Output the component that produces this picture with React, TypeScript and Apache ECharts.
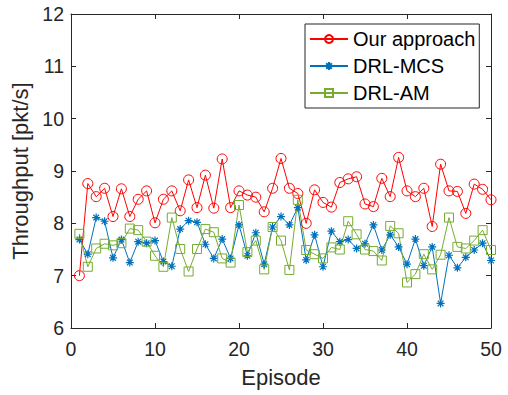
import React, { useEffect, useRef } from "react";
import * as echarts from "echarts";

const episodes: number[] = Array.from({ length: 50 }, (_, i) => i + 1);

const ourApproach: number[] = [
  7.0, 8.76, 8.51, 8.67, 8.13, 8.66, 8.13, 8.46, 8.62, 8.01,
  8.46, 8.62, 8.24, 8.83, 8.3, 8.92, 8.29, 9.23, 8.3, 8.62,
  8.54, 8.5, 8.22, 8.67, 9.24, 8.67, 8.57, 8.0, 8.64, 8.4,
  8.31, 8.78, 8.85, 8.89, 8.37, 8.32, 8.86, 8.51, 9.26, 8.62,
  8.51, 8.67, 7.94, 9.13, 8.62, 8.61, 8.19, 8.75, 8.65, 8.45,
];

const drlMcs: number[] = [
  7.69, 7.41, 8.11, 8.04, 7.34, 7.69, 7.25, 7.65, 7.62, 7.67,
  7.27, 7.18, 7.89, 8.05, 8.02, 7.6, 7.33, 7.7, 7.33, 7.97,
  7.38, 7.82, 7.22, 7.93, 8.13, 7.97, 8.3, 7.3, 7.78, 7.17,
  7.85, 7.65, 7.69, 7.52, 7.61, 7.97, 7.49, 7.78, 7.55, 7.22,
  7.7, 7.19, 7.55, 6.47, 7.39, 7.15, 7.35, 7.49, 7.62, 7.29,
];

const drlAm: number[] = [
  7.8, 7.17, 7.52, 7.61, 7.58, 7.62, 7.9, 7.87, 7.65, 7.38,
  7.17, 8.11, 7.51, 7.08, 7.51, 7.89, 7.83, 7.33, 7.25, 8.35,
  7.45, 7.67, 7.12, 7.93, 7.67, 7.11, 8.45, 7.49, 7.41, 7.33,
  7.54, 7.5, 8.04, 7.79, 7.5, 7.47, 7.29, 7.95, 7.81, 6.87,
  7.03, 7.41, 7.12, 7.4, 8.11, 7.55, 7.52, 7.67, 7.87, 7.49,
];

const seriesNames = ["Our approach", "DRL-MCS", "DRL-AM"];
const xTicks = { min: 0, max: 50, interval: 10 };
const yTicks = { min: 6, max: 12, interval: 1 };

const AXIS_COLOR = "#262626";
const FONT = "'Liberation Sans', Arial, Helvetica, sans-serif";
const ASTERISK =
  "path://M0,4L8,4M4,0L4,8M1.17,1.17L6.83,6.83M1.17,6.83L6.83,1.17";

export default function App() {
  const ref = useRef<HTMLDivElement>(null);

  useEffect(() => {
    document.body.style.margin = "0";
    if (!ref.current) return;
    const chart = echarts.init(ref.current, undefined, { renderer: "svg" });
    const pairs = (vals: number[]) => episodes.map((e, i) => [e, vals[i]]);

    const axisCommon = {
      axisLine: { show: true, onZero: false, lineStyle: { color: AXIS_COLOR, width: 1 } },
      axisTick: { show: true, inside: true, length: 5, lineStyle: { color: AXIS_COLOR } },
      splitLine: { show: false },
    };

    chart.setOption({
      animation: false,
      backgroundColor: "#ffffff",
      textStyle: { fontFamily: FONT },
      grid: { left: 71, top: 14, right: 17, bottom: 67, containLabel: false },
      legend: {
        data: seriesNames,
        orient: "vertical",
        left: 305,
        top: 24,
        itemWidth: 38,
        itemHeight: 10,
        itemGap: 3,
        padding: [3, 4, 3, 4],
        borderColor: AXIS_COLOR,
        borderWidth: 1,
        backgroundColor: "#ffffff",
        textStyle: { fontSize: 20, color: "#000000", fontFamily: FONT, lineHeight: 24 },
      },
      xAxis: [
        {
          type: "value",
          ...xTicks,
          ...axisCommon,
          name: "Episode",
          nameLocation: "middle",
          nameGap: 38,
          nameTextStyle: { fontSize: 22, color: AXIS_COLOR, fontFamily: FONT },
          axisLabel: { fontSize: 19.5, color: AXIS_COLOR, margin: 11, fontFamily: FONT },
        },
        {
          type: "value",
          position: "top",
          ...xTicks,
          ...axisCommon,
          axisLabel: { show: false },
        },
      ],
      yAxis: [
        {
          type: "value",
          ...yTicks,
          ...axisCommon,
          name: "Throughput [pkt/s]",
          nameLocation: "middle",
          nameGap: 36,
          nameTextStyle: { fontSize: 22, color: AXIS_COLOR, fontFamily: FONT },
          axisLabel: { fontSize: 19.5, color: AXIS_COLOR, margin: 7, fontFamily: FONT },
        },
        {
          type: "value",
          position: "right",
          ...yTicks,
          ...axisCommon,
          axisLabel: { show: false },
        },
      ],
      series: [
        {
          name: seriesNames[0],
          type: "line",
          data: pairs(ourApproach),
          symbol: "circle",
          symbolSize: 10,
          lineStyle: { color: "#FF0000", width: 1 },
          itemStyle: { color: "rgba(255,255,255,0)", borderColor: "#FF0000", borderWidth: 1 },
        },
        {
          name: seriesNames[1],
          type: "line",
          data: pairs(drlMcs),
          symbol: ASTERISK,
          symbolSize: 8,
          lineStyle: { color: "#0072BD", width: 1 },
          itemStyle: { color: "rgba(0,114,189,0)", borderColor: "#0072BD", borderWidth: 1.2 },
        },
        {
          name: seriesNames[2],
          type: "line",
          data: pairs(drlAm),
          symbol: "rect",
          symbolSize: 9,
          lineStyle: { color: "#77AC30", width: 1 },
          itemStyle: { color: "rgba(255,255,255,0)", borderColor: "#77AC30", borderWidth: 1 },
        },
      ],
    });

    return () => chart.dispose();
  }, []);

  return <div ref={ref} style={{ width: 508, height: 395 }} />;
}
